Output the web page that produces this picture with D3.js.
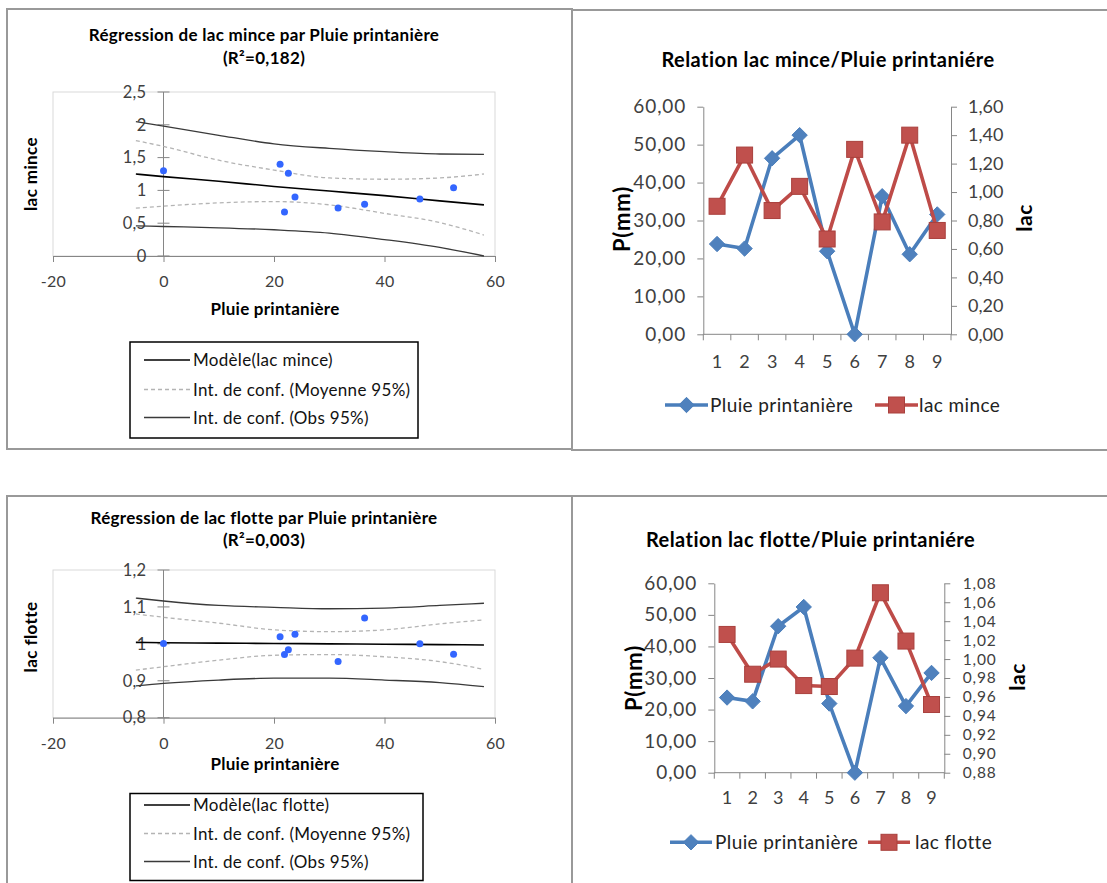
<!DOCTYPE html>
<html><head><meta charset="utf-8">
<script src="https://cdn.jsdelivr.net/npm/d3@7"></script>
<style>body{margin:0;background:#fff}svg{display:block}text{font-family:Lato,'Liberation Sans',sans-serif}</style>
</head><body><svg id="c" width="1107" height="883"></svg>
<script>
// ---------- data ----------
const obs = [1, 2, 3, 4, 5, 6, 7, 8, 9];
const pluie = [23.8, 22.6, 46.4, 52.5, 21.9, 0, 36.4, 21.1, 31.6];
const lacMince = [0.90, 1.26, 0.87, 1.04, 0.67, 1.30, 0.79, 1.40, 0.73];
const lacFlotte = [1.026, 0.984, 1.000, 0.972, 0.971, 1.001, 1.070, 1.019, 0.952];

const bandX = [-5, 0, 10, 20, 30, 40, 50, 58];
const minceModel = [1.25, 1.21, 1.14, 1.06, 0.99, 0.92, 0.84, 0.78];
const minceObsUp = [2.05, 1.98, 1.84, 1.71, 1.64, 1.59, 1.555, 1.55];
const minceObsLo = [0.46, 0.45, 0.43, 0.40, 0.35, 0.25, 0.13, 0.00];
const minceMeanUp = [1.76, 1.67, 1.46, 1.31, 1.19, 1.17, 1.19, 1.25];
const minceMeanLo = [0.73, 0.76, 0.81, 0.83, 0.78, 0.65, 0.51, 0.32];

const flotteModel = [1.004, 1.003, 1.002, 1.001, 1.000, 0.999, 0.998, 0.997];
const flotteObsUp = [1.124, 1.116, 1.104, 1.099, 1.095, 1.097, 1.104, 1.110];
const flotteObsLo = [0.886, 0.893, 0.902, 0.907, 0.907, 0.902, 0.895, 0.884];
const flotteMeanUp = [1.081, 1.072, 1.056, 1.038, 1.033, 1.038, 1.054, 1.065];
const flotteMeanLo = [0.929, 0.938, 0.956, 0.969, 0.971, 0.965, 0.952, 0.931];

const regXTicks = [-20, 0, 20, 40, 60];
const minceYTicks = [0, 0.5, 1, 1.5, 2, 2.5];
const flotteYTicks = [0.8, 0.9, 1, 1.1, 1.2];
const pluieTicks = [0, 10, 20, 30, 40, 50, 60];
const minceLacTicks = [0, 0.2, 0.4, 0.6, 0.8, 1.0, 1.2, 1.4, 1.6];
const flotteLacTicks = [0.88, 0.90, 0.92, 0.94, 0.96, 0.98, 1.00, 1.02, 1.04, 1.06, 1.08];

const legendReg = ["Int. de conf. (Moyenne 95%)", "Int. de conf. (Obs 95%)"];

// ---------- helpers ----------
const svg = d3.select("#c");
const loc = d3.formatLocale({decimal: ",", thousands: " ", grouping: [3], currency: ["", "€"]});
const f2 = loc.format(".2f");
const fShort = d => String(d).replace(".", ",");

// panel frames
[[7, 9, 565, 440], [572, 10, 540, 440], [7, 496, 565, 400], [572, 496, 540, 400]].forEach(r => {
  svg.append("rect").attr("x", r[0]).attr("y", r[1]).attr("width", r[2]).attr("height", r[3])
    .attr("fill", "none").attr("stroke", "#999").attr("stroke-width", 2);
});

function regChart(c) {
  const g = svg.append("g");
  const x = d3.scaleLinear().domain([-20, 60]).range([53, 495]);
  const y = d3.scaleLinear().domain(c.yDomain).range(c.yRange);
  const yTop = y(c.yDomain[1]), yBot = y(c.yDomain[0]);
  g.append("rect").attr("x", x(-20)).attr("y", yTop).attr("width", x(60) - x(-20)).attr("height", yBot - yTop)
    .attr("fill", "none").attr("stroke", "#d9d9d9");
  const xa = g.append("g").attr("transform", `translate(0,${yBot})`)
    .call(d3.axisBottom(x).tickValues(regXTicks).tickSize(6).tickSizeOuter(0).tickPadding(14).tickFormat(d => String(d)));
  xa.select(".domain").attr("stroke", "#868686");
  xa.selectAll(".tick line").attr("stroke", "#868686");
  xa.selectAll("text").attr("font-size", 16).attr("fill", "#404040").attr("font-family", "Lato").attr("letter-spacing", 0.3);
  const x0 = x(0);
  g.append("line").attr("x1", x0).attr("x2", x0).attr("y1", yTop).attr("y2", yBot).attr("stroke", "#868686");
  g.selectAll(".yt").data(c.yTicks).join("line").attr("x1", x0 - 6).attr("x2", x0 + 6)
    .attr("y1", d => y(d)).attr("y2", d => y(d)).attr("stroke", "#868686");
  g.selectAll(".yl").data(c.yTicks).join("text").attr("x", x0 - 17).attr("y", d => y(d)).attr("dy", "0.35em")
    .attr("text-anchor", "end").attr("font-size", 16.5).attr("letter-spacing", 0.3).attr("fill", "#404040").text(fShort);
  const ln = d3.line().x((d, i) => x(bandX[i])).y(d => y(d)).curve(d3.curveMonotoneX);
  g.append("path").attr("d", ln(c.meanUp)).attr("fill", "none").attr("stroke", "#b4b4b4").attr("stroke-width", 1.3).attr("stroke-dasharray", "4,3");
  g.append("path").attr("d", ln(c.meanLo)).attr("fill", "none").attr("stroke", "#b4b4b4").attr("stroke-width", 1.3).attr("stroke-dasharray", "4,3");
  g.append("path").attr("d", ln(c.obsUp)).attr("fill", "none").attr("stroke", "#3a3a3a").attr("stroke-width", 1.3);
  g.append("path").attr("d", ln(c.obsLo)).attr("fill", "none").attr("stroke", "#3a3a3a").attr("stroke-width", 1.3);
  g.append("path").attr("d", ln(c.model)).attr("fill", "none").attr("stroke", "#000").attr("stroke-width", 1.6);
  g.selectAll(".pt").data(c.yVals).join("circle").attr("cx", (d, i) => x(pluie[i])).attr("cy", d => y(d))
    .attr("r", 3.5).attr("fill", "#3366ff");
  c.title.forEach((t, i) => g.append("text").attr("x", 264).attr("y", c.titleY[i]).attr("text-anchor", "middle")
    .attr("font-size", 17).attr("letter-spacing", 0.3).attr("font-weight", "bold").attr("fill", "#000").text(t));
  g.append("text").attr("x", 275).attr("y", c.xTitleY).attr("text-anchor", "middle").attr("font-size", 17)
    .attr("letter-spacing", 0.25).attr("font-weight", "bold").text("Pluie printanière");
  g.append("text").attr("transform", `translate(37,${c.yTitleC}) rotate(-90)`).attr("text-anchor", "middle")
    .attr("font-size", 17).attr("letter-spacing", 0.4).attr("font-weight", "bold").text(c.yTitle);
  const L = c.legend;
  g.append("rect").attr("x", 130).attr("y", L.top).attr("width", L.w).attr("height", L.h)
    .attr("fill", "#fff").attr("stroke", "#000").attr("stroke-width", 1.5);
  const items = [
    {t: c.modelLabel, s: "#000", w: 1.6, dash: null},
    {t: legendReg[0], s: "#b4b4b4", w: 1.3, dash: "4,3"},
    {t: legendReg[1], s: "#3a3a3a", w: 1.3, dash: null}
  ];
  items.forEach((it, i) => {
    const ly = L.rows[i];
    g.append("line").attr("x1", 144).attr("x2", 190).attr("y1", ly).attr("y2", ly)
      .attr("stroke", it.s).attr("stroke-width", it.w).attr("stroke-dasharray", it.dash);
    g.append("text").attr("x", 193).attr("y", ly + 6).attr("font-size", 17).attr("letter-spacing", 0.3)
      .attr("fill", "#111").text(it.t);
  });
}

regChart({
  yDomain: [0, 2.5], yRange: [256, 92], yTicks: minceYTicks, yVals: lacMince,
  model: minceModel, obsUp: minceObsUp, obsLo: minceObsLo, meanUp: minceMeanUp, meanLo: minceMeanLo,
  title: ["Régression de lac mince par Pluie printanière", "(R²=0,182)"], titleY: [40.5, 63.5],
  xTitleY: 315, yTitle: "lac mince", yTitleC: 174, modelLabel: "Modèle(lac mince)",
  legend: {top: 342, w: 288, h: 96, rows: [360, 389.5, 417.5]}
});
regChart({
  yDomain: [0.8, 1.2], yRange: [717.7, 570], yTicks: flotteYTicks, yVals: lacFlotte,
  model: flotteModel, obsUp: flotteObsUp, obsLo: flotteObsLo, meanUp: flotteMeanUp, meanLo: flotteMeanLo,
  title: ["Régression de lac flotte par Pluie printanière", "(R²=0,003)"], titleY: [524, 546],
  xTitleY: 770, yTitle: "lac flotte", yTitleC: 637, modelLabel: "Modèle(lac flotte)",
  legend: {top: 793.5, w: 293, h: 87, rows: [805, 833.5, 861.5]}
});

function lineChart(c) {
  const g = svg.append("g");
  const x = d3.scaleBand().domain(obs).range(c.xRange);
  const cx = d => x(d) + x.bandwidth() / 2;
  const yL = d3.scaleLinear().domain([0, 60]).range(c.yRange);
  const yR = d3.scaleLinear().domain(c.rDomain).range(c.yRange);
  const grey = "#868686";
  const la = g.append("g").attr("transform", `translate(${c.xRange[0]},0)`)
    .call(d3.axisLeft(yL).tickValues(pluieTicks).tickSize(6).tickSizeOuter(0).tickPadding(12).tickFormat(f2));
  const ra = g.append("g").attr("transform", `translate(${c.xRange[1]},0)`)
    .call(d3.axisRight(yR).tickValues(c.rTicks).tickSize(6).tickSizeOuter(0).tickPadding(c.rPad).tickFormat(f2));
  [la, ra].forEach(a => {
    a.select(".domain").attr("stroke", grey);
    a.selectAll(".tick line").attr("stroke", grey);
    a.selectAll("text").attr("fill", "#404040").attr("font-family", "Lato");
  });
  la.selectAll("text").attr("font-size", 19).attr("letter-spacing", 0.9).attr("dx", 0.9);
  ra.selectAll("text").attr("font-size", c.rFont).attr("letter-spacing", c.rLs);
  const y0 = c.yRange[0];
  g.append("line").attr("x1", c.xRange[0]).attr("x2", c.xRange[1]).attr("y1", y0).attr("y2", y0).attr("stroke", grey);
  const bounds = obs.map(d => x(d)).concat([c.xRange[1]]);
  g.selectAll(".xt").data(bounds).join("line").attr("x1", d => d).attr("x2", d => d)
    .attr("y1", y0).attr("y2", y0 + 6).attr("stroke", grey);
  g.selectAll(".xl").data(obs).join("text").attr("x", cx).attr("y", c.xLabelY).attr("text-anchor", "middle")
    .attr("font-size", 18).attr("fill", "#404040").text(d => d);
  const lineP = d3.line().x((d, i) => cx(obs[i])).y(d => yL(d));
  const lineR = d3.line().x((d, i) => cx(obs[i])).y(d => yR(d));
  g.append("path").attr("d", lineP(pluie)).attr("fill", "none").attr("stroke", "#4a7ebb").attr("stroke-width", 3.6).attr("stroke-linejoin", "round");
  const dia = d3.symbol().type(d3.symbolDiamond2).size(150);
  g.selectAll(".dm").data(pluie).join("path").attr("d", dia)
    .attr("transform", (d, i) => `translate(${cx(obs[i])},${yL(d)})`).attr("fill", "#4f81bd").attr("stroke", "#4a7ebb").attr("stroke-width", 1);
  g.append("path").attr("d", lineR(c.lac)).attr("fill", "none").attr("stroke", "#be4b48").attr("stroke-width", 3.6).attr("stroke-linejoin", "round");
  g.selectAll(".sq").data(c.lac).join("rect").attr("x", (d, i) => cx(obs[i]) - 8).attr("y", d => yR(d) - 8)
    .attr("width", 16).attr("height", 16).attr("fill", "#c0504d").attr("stroke", "#a9403d").attr("stroke-width", 1);
  g.append("text").attr("x", c.titleX).attr("y", c.titleY).attr("text-anchor", "middle").attr("font-size", 20)
    .attr("letter-spacing", 0.45).attr("font-weight", "bold").attr("fill", "#000").text(c.title);
  g.append("text").attr("transform", `translate(${c.pX},${c.pC}) rotate(-90)`).attr("text-anchor", "middle")
    .attr("font-size", 22).attr("letter-spacing", 0.8).attr("font-weight", "bold").text("P(mm)");
  g.append("text").attr("transform", `translate(${c.lX},${c.lC}) rotate(-90)`).attr("text-anchor", "middle")
    .attr("font-size", 21).attr("letter-spacing", 0.5).attr("font-weight", "bold").text("lac");
  const L = c.legend;
  g.append("line").attr("x1", L.b[0]).attr("x2", L.b[1]).attr("y1", L.y).attr("y2", L.y).attr("stroke", "#4a7ebb").attr("stroke-width", 3.6);
  g.append("path").attr("d", dia).attr("transform", `translate(${(L.b[0] + L.b[1]) / 2},${L.y})`).attr("fill", "#4f81bd").attr("stroke", "#4a7ebb");
  g.append("text").attr("x", L.bt).attr("y", L.y + 7).attr("font-size", 19).attr("letter-spacing", 0.4).attr("fill", "#222").text("Pluie printanière");
  g.append("line").attr("x1", L.r[0]).attr("x2", L.r[1]).attr("y1", L.y).attr("y2", L.y).attr("stroke", "#be4b48").attr("stroke-width", 3.6);
  g.append("rect").attr("x", (L.r[0] + L.r[1]) / 2 - 8).attr("y", L.y - 8).attr("width", 16).attr("height", 16)
    .attr("fill", "#c0504d").attr("stroke", "#a9403d");
  g.append("text").attr("x", L.rt).attr("y", L.y + 7).attr("font-size", 19).attr("letter-spacing", 0.4).attr("fill", "#222").text(c.lacLabel);
}

lineChart({
  xRange: [703.3, 951], yRange: [334.3, 106.7], rDomain: [0, 1.6], rTicks: minceLacTicks, lac: lacMince,
  rFont: 18, rLs: 0, rPad: 11,
  xLabelY: 368, title: "Relation lac mince/Pluie printaniére", titleX: 828, titleY: 66.5,
  pX: 630, pC: 219, lX: 1031.5, lC: 218, lacLabel: "lac mince",
  legend: {y: 405, b: [665, 708], bt: 710, r: [875, 918], rt: 919}
});
lineChart({
  xRange: [714.3, 944.3], yRange: [772.7, 583.3], rDomain: [0.88, 1.08], rTicks: flotteLacTicks, lac: lacFlotte,
  rFont: 15.5, rLs: 0.8, rPad: 12.5,
  xLabelY: 803.5, title: "Relation lac flotte/Pluie printaniére", titleX: 810.5, titleY: 546.7,
  pX: 642, pC: 678, lX: 1025, lC: 677, lacLabel: "lac flotte",
  legend: {y: 842.3, b: [670, 712], bt: 715, r: [868, 910], rt: 915}
});
</script></body></html>
